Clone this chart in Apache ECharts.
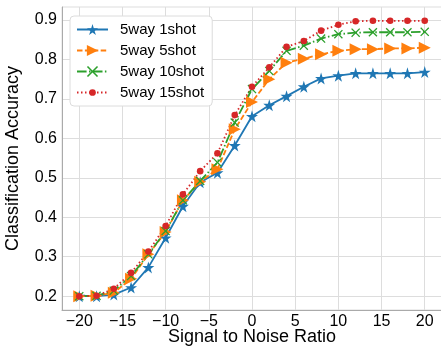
<!DOCTYPE html>
<html>
<head>
<meta charset="utf-8">
<script src="https://cdn.jsdelivr.net/npm/echarts@6/dist/echarts.min.js"></script>
<style>
  html, body { margin: 0; padding: 0; background: #fff; }
  #chart { width: 441px; height: 350px; }
</style>
</head>
<body>
<div id="chart"></div>
<script>
// 数据
var snr = [-20, -18, -16, -14, -12, -10, -8, -6, -4, -2, 0, 2, 4, 6, 8, 10, 12, 14, 16, 18, 20];
var acc1shot  = [0.200, 0.200, 0.204, 0.222, 0.273, 0.348, 0.428, 0.489, 0.513, 0.582, 0.656, 0.684, 0.707, 0.731, 0.752, 0.759, 0.765, 0.765, 0.765, 0.765, 0.768];
var acc5shot  = [0.200, 0.201, 0.209, 0.244, 0.306, 0.363, 0.443, 0.490, 0.522, 0.623, 0.692, 0.750, 0.792, 0.802, 0.813, 0.822, 0.826, 0.826, 0.828, 0.828, 0.830];
var acc10shot = [0.200, 0.201, 0.214, 0.251, 0.306, 0.365, 0.443, 0.492, 0.539, 0.640, 0.725, 0.771, 0.822, 0.835, 0.853, 0.864, 0.868, 0.869, 0.869, 0.869, 0.870];
var acc15shot = [0.200, 0.201, 0.219, 0.259, 0.313, 0.378, 0.458, 0.517, 0.562, 0.659, 0.731, 0.780, 0.832, 0.847, 0.873, 0.888, 0.897, 0.898, 0.898, 0.898, 0.898];
var names = ['5way 1shot', '5way 5shot', '5way 10shot', '5way 15shot'];
var xTicks = [-20, -15, -10, -5, 0, 5, 10, 15, 20];
var yTicks = [0.2, 0.3, 0.4, 0.5, 0.6, 0.7, 0.8, 0.9];

// 标记形状
var STAR = 'path://M50,0 L61,35 L98,35 L68,57 L79,91 L50,70 L21,91 L32,57 L2,35 L39,35 Z';
var TRI = 'path://M0,0 L10,5 L0,10 Z';
var CROSS = 'path://M0,2 L2,0 L10,8 L18,0 L20,2 L12,10 L20,18 L18,20 L10,12 L2,20 L0,18 L8,10 Z';
// 圆点外留空白, 让图例里的圆点小一些
var DOT = 'path://M0,0 M20,20 M10,4 A6,6 0 1,1 10,16 A6,6 0 1,1 10,4 Z';

function pairs(ys) {
    return snr.map(function (x, i) { return [x, ys[i]]; });
}

function minus(v) {
    return v < 0 ? '\u2212' + (-v) : String(v);
}

function initEcharts() {
    var myChart = echarts.init(document.getElementById('chart'));
    var font = 'Liberation Sans, Arial, sans-serif';

    var option = {
        animation: false,
        grid: {
            left: 62,
            top: 7,
            width: 380,
            height: 303,
            outerBoundsMode: 'none',
            show: true,
            borderColor: '#dddddd',
            borderWidth: 1
        },
        legend: {
            orient: 'vertical',
            left: 70,
            top: 16,
            padding: [6, 8, 6, 6],
            itemWidth: 31,
            itemHeight: 14,
            itemGap: 6,
            backgroundColor: '#fff',
            borderColor: '#dcdcdc',
            borderWidth: 1,
            borderRadius: 4,
            textStyle: { fontSize: 15, color: '#000', fontFamily: font, padding: [0, 0, 0, 7] },
            data: names
        },
        xAxis: {
            type: 'value',
            min: -22,
            max: 22,
            name: 'Signal to Noise Ratio',
            nameLocation: 'middle',
            nameGap: 18,
            nameMoveOverlap: false,
            nameTextStyle: { fontSize: 18, color: '#000', fontFamily: font },
            axisLine: { show: true, onZero: false, lineStyle: { color: '#aaaaaa', width: 1 } },
            axisTick: { show: false, customValues: xTicks },
            axisLabel: {
                customValues: xTicks,
                fontSize: 16,
                color: '#000',
                fontFamily: font,
                margin: 4,
                formatter: minus
            },
            splitLine: { show: true, lineStyle: { color: '#dddddd', width: 1 } }
        },
        yAxis: {
            type: 'value',
            min: 0.165,
            max: 0.933,
            name: 'Classification Accuracy',
            nameLocation: 'middle',
            nameGap: 40,
            nameMoveOverlap: false,
            nameTextStyle: { fontSize: 18, color: '#000', fontFamily: font },
            axisLine: { show: true, onZero: false, lineStyle: { color: '#aaaaaa', width: 1 } },
            axisTick: { show: false, customValues: yTicks },
            axisLabel: {
                customValues: yTicks,
                fontSize: 16,
                color: '#000',
                fontFamily: font,
                margin: 5,
                formatter: function (v) { return v.toFixed(1); }
            },
            splitLine: { show: true, lineStyle: { color: '#dddddd', width: 1 } }
        },
        series: [{
            name: names[0],
            type: 'line',
            data: pairs(acc1shot),
            symbol: STAR,
            symbolSize: 12,
            color: '#1f77b4',
            lineStyle: { width: 1.8, type: 'solid' }
        }, {
            name: names[1],
            type: 'line',
            data: pairs(acc5shot),
            symbol: TRI,
            symbolSize: 12,
            color: '#ff7f0e',
            lineStyle: { width: 1.8, type: [5.5, 2.4] }
        }, {
            name: names[2],
            type: 'line',
            data: pairs(acc10shot),
            symbol: CROSS,
            symbolSize: 9,
            color: '#2ca02c',
            lineStyle: { width: 1.8, type: [9.6, 2.4, 1.5, 2.4] }
        }, {
            name: names[3],
            type: 'line',
            data: pairs(acc15shot),
            symbol: DOT,
            symbolSize: 11,
            color: '#d62728',
            lineStyle: { width: 1.8, type: [1.5, 2.5] }
        }]
    };

    myChart.setOption(option);
}

initEcharts();
</script>
</body>
</html>
